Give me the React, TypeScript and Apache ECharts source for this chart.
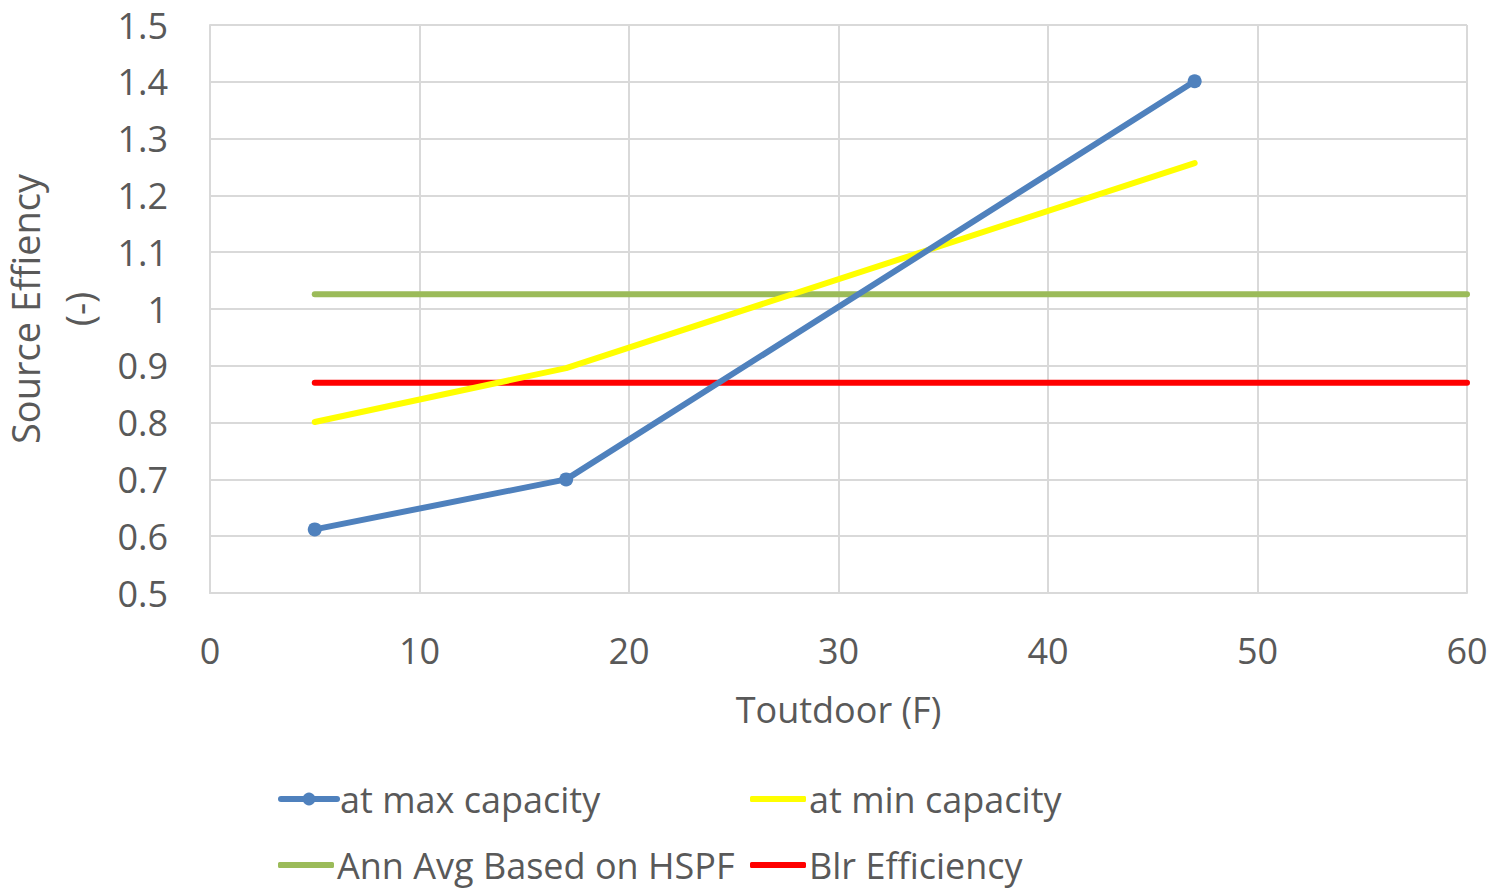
import React, { useEffect, useRef } from "react";
import * as echarts from "echarts";

const seriesNames = ["at max capacity", "at min capacity", "Ann Avg Based on HSPF", "Blr Efficiency"];
const maxCapX = [5, 17, 47];
const maxCapY = [0.612, 0.7, 1.401];
const minCapX = [5, 17, 47];
const minCapY = [0.801, 0.896, 1.257];
const annAvgX = [5, 60];
const annAvgY = [1.026, 1.026];
const blrX = [5, 60];
const blrY = [0.87, 0.87];
const xTicks = [0, 10, 20, 30, 40, 50, 60];
const yTicks = [0.5, 0.6, 0.7, 0.8, 0.9, 1, 1.1, 1.2, 1.3, 1.4, 1.5];
const colors = ["#4f81bd", "#ffff00", "#9bbb59", "#ff0000"];

const FONT = "'Open Sans', sans-serif";
const TXT = "#595959";
const FS = 36;

function pairs(xs: number[], ys: number[]) {
  return xs.map((x, i) => [x, ys[i]]);
}

export default function App() {
  const ref = useRef<HTMLDivElement>(null);
  useEffect(() => {
    document.body.style.margin = "0";
    if (!ref.current) return;
    const chart = echarts.init(ref.current, null, { renderer: "svg" });
    const legendBase = {
      itemGap: 4,
      textStyle: { fontFamily: FONT, fontSize: FS, color: TXT, padding: [0, 0, 0, -2] },
      padding: 0,
      lineStyle: { width: 6, cap: "round" },
    };
    const datasets = [
      pairs(maxCapX, maxCapY),
      pairs(minCapX, minCapY),
      pairs(annAvgX, annAvgY),
      pairs(blrX, blrY),
    ];
    const lineIcon = (name: string) => ({ name, icon: "roundRect" });
    chart.setOption({
      animation: false,
      textStyle: { fontFamily: FONT },
      grid: { left: 210, right: 29, top: 25, bottom: 295, containLabel: false, outerBoundsMode: "none" },
      legend: [
        { ...legendBase, itemWidth: 56, itemHeight: 16, data: [seriesNames[0]], left: 278, top: 781 },
        { ...legendBase, itemWidth: 56, itemHeight: 6, data: [lineIcon(seriesNames[1])], left: 750, top: 781 },
        { ...legendBase, itemWidth: 56, itemHeight: 6, data: [lineIcon(seriesNames[2])], left: 278, top: 847 },
        { ...legendBase, itemWidth: 56, itemHeight: 6, data: [lineIcon(seriesNames[3])], left: 750, top: 847 },
      ],
      xAxis: {
        type: "value",
        min: xTicks[0],
        max: xTicks[xTicks.length - 1],
        interval: xTicks[1] - xTicks[0],
        name: "Toutdoor (F)",
        nameLocation: "middle",
        nameGap: 98,
        nameTextStyle: { fontFamily: FONT, fontSize: FS, color: TXT },
        axisLine: { show: true, lineStyle: { color: "#d9d9d9", width: 2 } },
        axisTick: { show: false },
        axisLabel: { fontFamily: FONT, fontSize: FS, color: TXT, margin: 39 },
        splitLine: { show: true, lineStyle: { color: "#d9d9d9", width: 2 } },
      },
      yAxis: {
        type: "value",
        min: yTicks[0],
        max: yTicks[yTicks.length - 1],
        interval: 0.1,
        name: "Source Effiency\n(-)",
        nameLocation: "middle",
        nameGap: 82,
        nameRotate: 90,
        nameTextStyle: { fontFamily: FONT, fontSize: 38, color: TXT, lineHeight: 54, align: "center" },
        axisLine: { show: true, lineStyle: { color: "#d9d9d9", width: 2 } },
        axisTick: { show: false },
        axisLabel: {
          fontFamily: FONT,
          fontSize: FS,
          color: TXT,
          margin: 42,
          formatter: (v: number) => String(parseFloat(v.toFixed(1))),
        },
        splitLine: { show: true, lineStyle: { color: "#d9d9d9", width: 2 } },
      },
      series: seriesNames.map((name, i) => ({
        name,
        type: "line",
        data: datasets[i],
        symbol: i === 0 ? "circle" : "none",
        symbolSize: 14,
        showSymbol: i === 0,
        color: colors[i],
        itemStyle: { color: colors[i] },
        lineStyle: { color: colors[i], width: 6, cap: "round", join: "round" },
        z: i === 0 ? 5 : 4 - i,
      })),
    });
    return () => chart.dispose();
  }, []);
  return <div ref={ref} style={{ width: 1496, height: 888 }} />;
}
